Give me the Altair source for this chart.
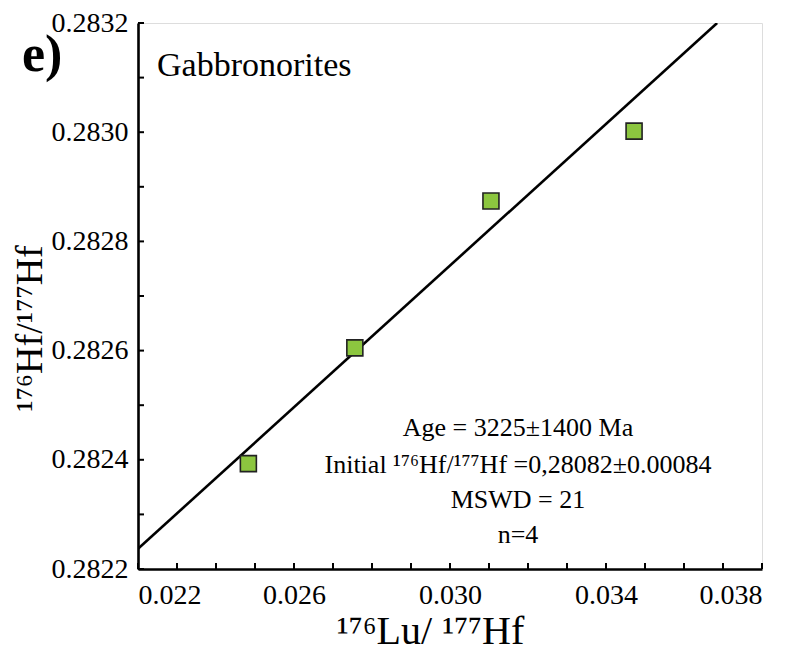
import altair as alt
import pandas as pd

# data
lu_hf = [0.02483, 0.02756, 0.03105, 0.03472]
hf_hf = [0.282393, 0.282605, 0.282874, 0.283002]

line_x = [0.0220, 0.03685]
line_y = [0.282237, 0.2832]

x_ticks = [0.022, 0.023, 0.024, 0.025, 0.026, 0.027, 0.028, 0.029, 0.030,
           0.031, 0.032, 0.033, 0.034, 0.035, 0.036, 0.037, 0.038]
y_ticks = [0.2822, 0.2823, 0.2824, 0.2825, 0.2826, 0.2827, 0.2828, 0.2829,
           0.2830, 0.2831, 0.2832]
x_labels = [0.022, 0.026, 0.030, 0.034, 0.038]
y_labels = [0.2822, 0.2824, 0.2826, 0.2828, 0.2830, 0.2832]

notes = ["Age = 3225±1400 Ma",
         "Initial ¹⁷⁶Hf/¹⁷⁷Hf =0,28082±0.00084",
         "MSWD = 21",
         "n=4"]

FONT = "Liberation Serif"
W, H = 624, 546
xdom = [0.022, 0.038]
ydom = [0.2822, 0.2832]

xs = alt.Scale(domain=xdom, nice=False, zero=False)
ys = alt.Scale(domain=ydom, nice=False, zero=False)

pts = pd.DataFrame({"x": lu_hf, "y": hf_hf})
ln = pd.DataFrame({"x": line_x, "y": line_y})
xt = pd.DataFrame({"v": x_ticks})
yt = pd.DataFrame({"v": y_ticks})

xaxis = alt.Axis(values=x_labels, format=".3f", ticks=False, grid=False,
                 domain=True, domainColor="black", domainWidth=2.6,
                 labelFont=FONT, labelFontSize=28, labelColor="black", labelPadding=12,
                 title="¹⁷⁶Lu/ ¹⁷⁷Hf", titleFont=FONT, titleFontSize=40,
                 titleFontWeight="normal", titleColor="black",
                 titleX=292, titleY=74, titleAlign="center", titleBaseline="alphabetic")
yaxis = alt.Axis(values=y_labels, format=".4f", ticks=False, grid=False,
                 domain=True, domainColor="black", domainWidth=2.6,
                 labelFont=FONT, labelFontSize=28, labelColor="black", labelPadding=10,
                 title="¹⁷⁶Hf/¹⁷⁷Hf", titleFont=FONT, titleFontSize=38,
                 titleFontWeight="normal", titleColor="black",
                 titleX=-97, titleY=305, titleAngle=270,
                 titleBaseline="alphabetic", titleAlign="center")

line = alt.Chart(ln).mark_line(color="black", strokeWidth=2.6, clip=True).encode(
    x=alt.X("x:Q", scale=xs, axis=xaxis),
    y=alt.Y("y:Q", scale=ys, axis=yaxis),
)

points = alt.Chart(pts).mark_square(size=256, color="#8cc63f", opacity=1,
                                     stroke="#222222", strokeWidth=1.6).encode(
    x=alt.X("x:Q", scale=xs),
    y=alt.Y("y:Q", scale=ys),
)

xtick = alt.Chart(xt).mark_rule(color="black", strokeWidth=2).encode(
    x=alt.X("v:Q", scale=xs),
    y=alt.value(H),
    y2=alt.value(H - 6),
)
ytick = alt.Chart(yt).mark_rule(color="black", strokeWidth=2).encode(
    y=alt.Y("v:Q", scale=ys),
    x=alt.value(0),
    x2=alt.value(6),
)

note_y = [405, 442, 477, 512]
note_layers = []
for i, t in enumerate(notes):
    note_layers.append(
        alt.Chart(pd.DataFrame({"t": [t]})).mark_text(
            font=FONT, fontSize=26, color="black", align="center", baseline="middle"
        ).encode(text="t:N", x=alt.value(380), y=alt.value(note_y[i]))
    )

label = alt.Chart(pd.DataFrame({"t": ["Gabbronorites"]})).mark_text(
    font=FONT, fontSize=34, color="black", align="left", baseline="alphabetic"
).encode(text="t:N", x=alt.value(19), y=alt.value(53))

panel = alt.Chart(pd.DataFrame({"t": ["e)"]})).mark_text(
    font=FONT, fontSize=52, fontWeight="bold", color="black", align="left",
    baseline="alphabetic"
).encode(text="t:N", x=alt.value(-116), y=alt.value(48))

chart = alt.layer(line, xtick, ytick, points, label, panel, *note_layers).properties(
    width=W, height=H,
    autosize=alt.AutoSizeParams(type="none"),
    padding={"left": 130, "top": 15, "right": 33, "bottom": 87},
).configure_view(stroke="black", strokeWidth=2.6).configure_axis(
    labelFont=FONT, titleFont=FONT
).configure_text(font=FONT).configure(background="white")

chart.save("out.html", embed_options={"renderer": "svg", "actions": False})
